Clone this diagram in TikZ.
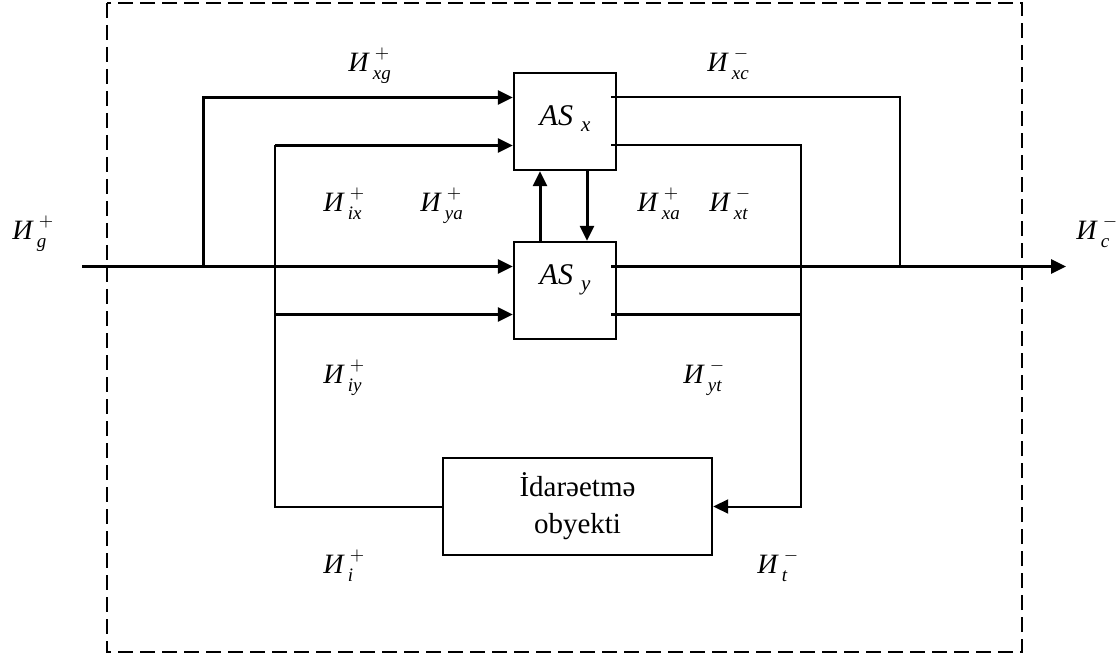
\documentclass[tikz,border=0pt]{standalone}
\usepackage{amsmath}
\usepackage{fontspec}
\setmainfont{Liberation Serif}
\usetikzlibrary{arrows.meta,positioning}

\tikzset{
  blk/.style={draw,line width=1.2pt,minimum width=51pt,minimum height=48.5pt,inner sep=0pt},
  thk/.style={line width=1.5pt},
  thn/.style={line width=1pt},
  arr/.style={-{Triangle[length=7.5pt,width=7pt]}},
  frame/.style={line width=1pt,dash pattern=on 7.5pt off 3.5pt},
  lbl/.style={anchor=base west,inner sep=0pt,font=\fontsize{14}{16}\selectfont},
  blktxt/.style={anchor=base,inner sep=0pt,font=\fontsize{15}{18}\selectfont},
}
% flow label: main letter with raised sign and lowered index
\newcommand{\flow}[2]{\textit{И}\kern1.5pt\rlap{\raisebox{6.5pt}{\kern1pt\fontsize{9.5}{10}\selectfont$#1$}}\raisebox{-4pt}{\fontsize{9.5}{10}\selectfont\textit{#2}}}
\newcommand{\blkname}[1]{\textit{AS}\kern4pt\raisebox{-3pt}{\fontsize{10.5}{11}\selectfont\textit{#1}}}

\begin{document}
\begin{tikzpicture}[x=0.5pt,y=-0.5pt]
  \useasboundingbox (0,0) rectangle (1117,657);
  % system border
  \draw[frame] (107,3) rectangle (1022,652);

  % blocks
  \node[blk] (asx) at (565,121.5) {};
  \node[blk] (asy) at (565,290.5) {};
  \node[blk,minimum width=134.5pt,align=center,font=\fontsize{14.5}{18.5}\selectfont] (obj) at (577.5,506.5) {İdarəetmə\\obyekti};
  \node[blktxt] (asxt) at (565,126) {\blkname{x}};
  \node[blktxt] (asyt) at (565,285) {\blkname{y}};

  % ports
  \coordinate (xa) at ([yshift=12pt]asx.west);
  \coordinate (xb) at ([yshift=-12pt]asx.west);
  \coordinate (ya) at ([yshift=12pt]asy.west);
  \coordinate (yb) at ([yshift=-12pt]asy.west);
  \coordinate (xc) at ([xshift=-3pt,yshift=12pt]asx.east);
  \coordinate (xt) at ([xshift=-3pt,yshift=-12pt]asx.east);
  \coordinate (yc) at ([xshift=-3pt,yshift=12pt]asy.east);
  \coordinate (yt) at ([xshift=-3pt,yshift=-12pt]asy.east);

  % junctions
  \coordinate (gin) at (82,266.5);
  \coordinate (cout) at (1066,266.5);
  \coordinate (jg) at (203,266.5);
  \coordinate (ji) at (275,145.5);
  \coordinate (jc) at (900,266.5);
  \coordinate (jt) at ([xshift=44pt]obj.east);

  % inputs
  \draw[thk,arr] (gin) -- (ya);
  \draw[thk,arr] (jg) |- (xa);
  \draw[thn] (obj.west) -| (ji);
  \draw[thk,arr] (ji) -- (xb);
  \draw[thk,arr] (ji |- yb) -- (yb);

  % outputs
  \draw[thk,arr] (yc) -- (cout);
  \draw[thn] (xc) -| (jc);
  \draw[thn,arr] (xt) -| (jt) -- (obj.east);
  \draw[thn] (yt) -- (yt -| jt);

  % exchange between AS blocks
  \draw[thk,arr] ([xshift=-12.5pt]asy.north) -- ([xshift=-12.5pt]asx.south);
  \draw[thk,arr] ([xshift=11pt]asx.south) -- ([xshift=11pt]asy.north);

  % flow labels
  \node[lbl] (lg) at (12,240) {\flow{+}{g}};
  \node[lbl] (lxg) at (348,72) {\flow{+}{xg}};
  \node[lbl] (lxc) at (707,72) {\flow{-}{xc}};
  \node[lbl] (lix) at (323,212) {\flow{+}{ix}};
  \node[lbl] (lya) at (420,212) {\flow{+}{ya}};
  \node[lbl] (lxa) at (637,212) {\flow{+}{xa}};
  \node[lbl] (lxt) at (709,212) {\flow{-}{xt}};
  \node[lbl] (lc) at (1076,240) {\flow{-}{c}};
  \node[lbl] (liy) at (323,383) {\flow{+}{iy}};
  \node[lbl] (lyt) at (683,383) {\flow{-}{yt}};
  \node[lbl] (li) at (323,573) {\flow{+}{i}};
  \node[lbl] (lt) at (757,573) {\flow{-}{t}};
\end{tikzpicture}
\end{document}
